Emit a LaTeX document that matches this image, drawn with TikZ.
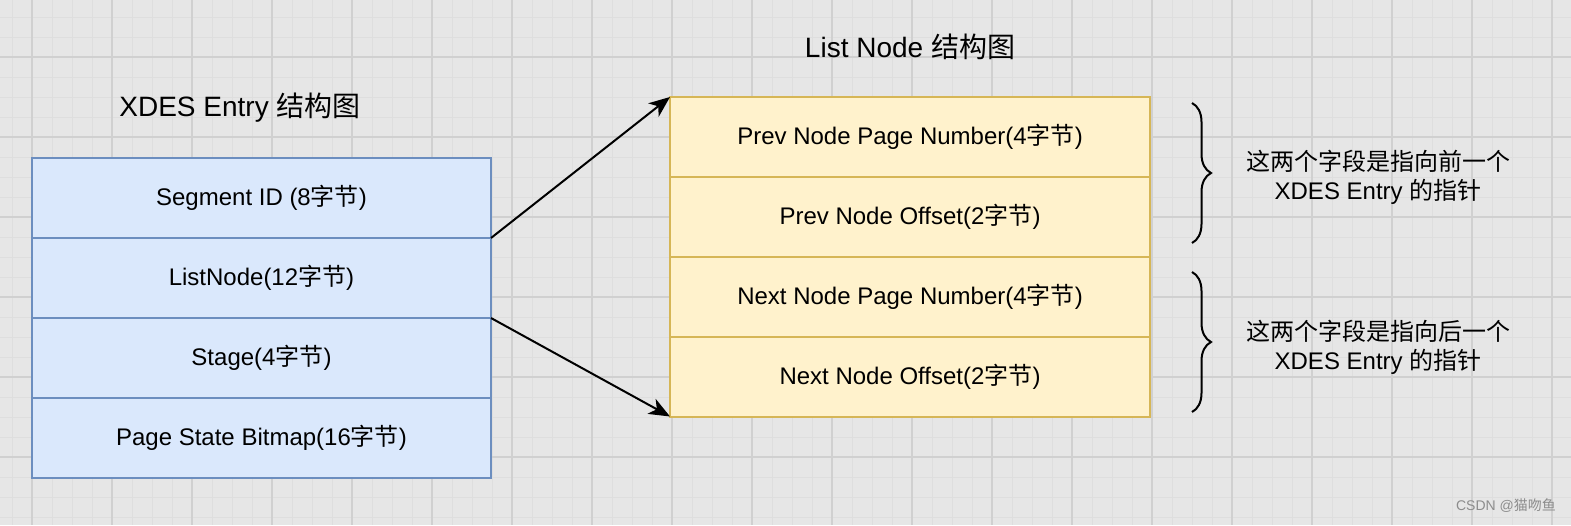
\documentclass[tikz,border=0pt]{standalone}
\usepackage{fontspec}
\usepackage{xcolor}
\usepackage{tikz}
\usetikzlibrary{arrows.meta,decorations.pathreplacing}

\setmainfont{Liberation Sans}
\newfontfamily\cjk{Noto Sans CJK SC}
\newcommand{\zhtext}[1]{{\cjk #1}}

\definecolor{canvasbg}{HTML}{E6E6E6}
\definecolor{gridminor}{HTML}{DEDEDE}
\definecolor{gridmajor}{HTML}{D0D0D0}
\definecolor{bluefill}{HTML}{DAE8FC}
\definecolor{bluedraw}{HTML}{6C8EBF}
\definecolor{yellowfill}{HTML}{FFF2CC}
\definecolor{yellowdraw}{HTML}{D6B656}

\tikzset{
	bluerow/.style={draw=bluedraw, fill=bluefill, line width=2pt, minimum width=459pt, minimum height=80pt, inner sep=0pt, outer sep=0pt, font=\fontsize{24}{29}\selectfont},
	yellowrow/.style={draw=yellowdraw, fill=yellowfill, line width=2pt, minimum width=480pt, minimum height=80pt, inner sep=0pt, outer sep=0pt, font=\fontsize{24}{29}\selectfont},
	title/.style={font=\fontsize{28}{32}\selectfont, inner sep=0pt},
	note/.style={align=center, font=\fontsize{24}{29}\selectfont, inner sep=0pt},
	pointer/.style={line width=2pt, -{Stealth[length=21pt, width=17pt, inset=6pt]}},
	bracket/.style={line width=2pt, decorate, decoration={brace, amplitude=19pt, aspect=0.5}},
}

\begin{document}
\begin{tikzpicture}[x=1pt, y=-1pt]
	\useasboundingbox (0,0) rectangle (1571,525);
	% background grid
	\fill[canvasbg] (0,0) rectangle (1571,525);
	\foreach \gx in {12,32,...,1571} \draw[gridminor, line width=1pt] (\gx,0) -- (\gx,525);
	\foreach \gy in {17,37,...,525} \draw[gridminor, line width=1pt] (0,\gy) -- (1571,\gy);
	\foreach \gx in {32,112,...,1571} \draw[gridmajor, line width=1.3pt] (\gx,0) -- (\gx,525);
	\foreach \gy in {57,137,...,525} \draw[gridmajor, line width=1.3pt] (0,\gy) -- (1571,\gy);

	% XDES Entry
	\node[title] at (240,108) (xdestitle) {XDES Entry \zhtext{结构图}};
	\node[bluerow] at (261.5,198) (seg) {Segment ID (8\zhtext{字节})};
	\node[bluerow] at (261.5,278) (lnode) {ListNode(12\zhtext{字节})};
	\node[bluerow] at (261.5,358) (stage) {Stage(4\zhtext{字节})};
	\node[bluerow] at (261.5,437.5) (bitmap) {Page State Bitmap(16\zhtext{字节})};

	% List Node
	\node[title] at (910,47) (listtitle) {List Node \zhtext{结构图}};
	\node[yellowrow] at (910,137) (prevnum) {Prev Node Page Number(4\zhtext{字节})};
	\node[yellowrow] at (910,217) (prevoff) {Prev Node Offset(2\zhtext{字节})};
	\node[yellowrow] at (910,297) (nextnum) {Next Node Page Number(4\zhtext{字节})};
	\node[yellowrow] at (910,376.5) (nextoff) {Next Node Offset(2\zhtext{字节})};

	\draw[pointer] (lnode.north east) -- (prevnum.north west);
	\draw[pointer] (lnode.south east) -- (nextoff.south west);

	% braces and notes
	\coordinate (prevtop) at (1192,103);
	\coordinate (prevbot) at (1192,243);
	\coordinate (nexttop) at (1192,272);
	\coordinate (nextbot) at (1192,412);
	\draw[bracket] (prevtop) -- (prevbot);
	\draw[bracket] (nexttop) -- (nextbot);
	\node[note] at (1378,177.5) (prevnote) {\zhtext{这两个字段是指向前一个}\\XDES Entry \zhtext{的指针}};
	\node[note] at (1378,347) (nextnote) {\zhtext{这两个字段是指向后一个}\\XDES Entry \zhtext{的指针}};

	\node[font=\fontsize{14}{16}\selectfont, text=black!45, inner sep=0pt] at (1506,506) (mark) {CSDN @\zhtext{猫吻鱼}};
\end{tikzpicture}
\end{document}
